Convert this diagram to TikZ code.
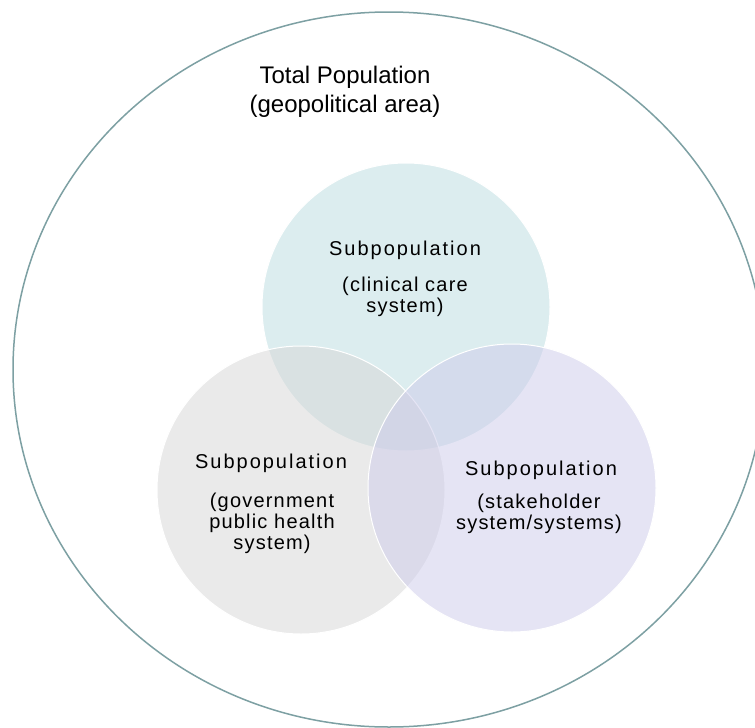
\documentclass[tikz,border=0pt]{standalone}
\usepackage{fontspec}
\setmainfont{Liberation Sans}
\newfontfamily\spacedfont[LetterSpace=10]{Liberation Sans}
\newfontfamily\detailfont[LetterSpace=6]{Liberation Sans}
\usetikzlibrary{shapes.geometric}
\definecolor{outline}{RGB}{125,160,163}
\definecolor{clinfill}{RGB}{187,221,225}
\definecolor{govfill}{RGB}{215,215,215}
\definecolor{stakefill}{RGB}{205,203,235}
\tikzset{%
	subpop/.style   = {circle, draw=white, line width=1pt, minimum size=288pt,
		fill opacity=0.5}, % Subpopulation circle
	total/.style    = {ellipse, draw=outline, line width=1.5pt}, % Total population
	head/.style     = {anchor=base, inner sep=0pt, font=\spacedfont\fontsize{20}{21}\selectfont},
	detail/.style   = {anchor=north, inner sep=0pt, align=center,
		font=\detailfont\fontsize{20}{21}\selectfont}
}
\begin{document}
\begin{tikzpicture}[x=1pt,y=-1pt]
	
	\useasboundingbox (0,0) rectangle (755,728);
	\fill[white] (0,0) rectangle (755,728);
	
	\node[total, minimum width=752pt, minimum height=715pt] at (389,369.5) (area) {};
	\node[subpop, fill=clinfill] at (406,307) (clin) {};
	\node[subpop, fill=govfill] at (301,490) (gov) {};
	\node[subpop, fill=stakefill] at (512,488) (stake) {};
	
	\node[anchor=north, inner sep=0pt, align=center, font=\fontsize{24}{29}\selectfont]
		at (345,65.5) (areatext) {Total Population\\(geopolitical area)};
	
	\node[head] at (405,255) (clinhead) {Subpopulation};
	\node[detail] at (405,276.5) (clintext) {(clinical care\\system)};
	\node[head] at (271,468) (govhead) {Subpopulation};
	\node[detail] at (272,492.5) (govtext) {(government\\public health\\system)};
	\node[head] at (541,475) (stakehead) {Subpopulation};
	\node[detail] at (539,493.5) (staketext) {(stakeholder\\system/systems)};
	
\end{tikzpicture}
\end{document}
